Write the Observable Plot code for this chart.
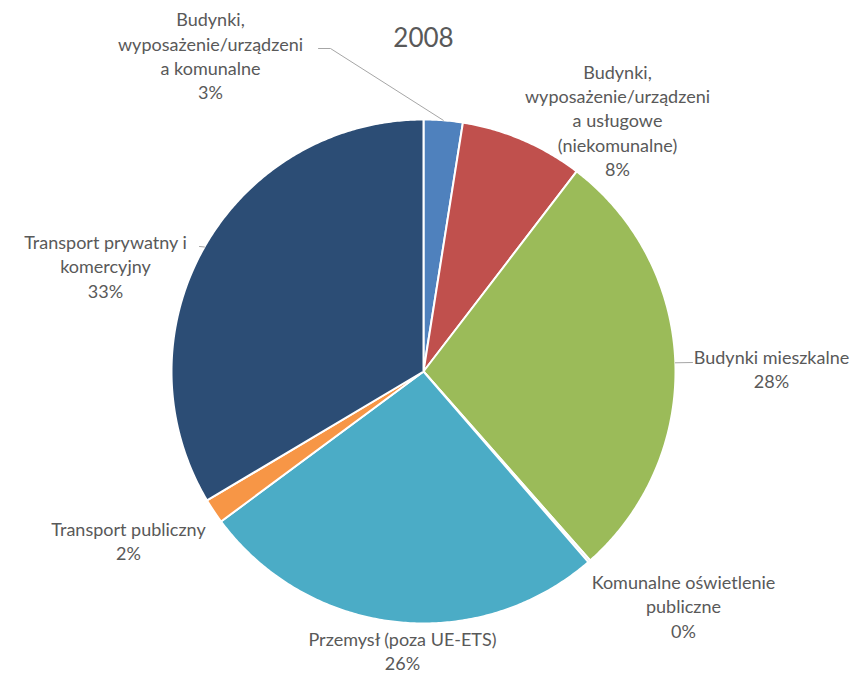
<!DOCTYPE html>
<html>
<head>
<meta charset="utf-8">
<script src="https://cdn.jsdelivr.net/npm/d3@7"></script>
<script src="https://cdn.jsdelivr.net/npm/@observablehq/plot@0.6"></script>
<style>
  html, body { margin: 0; padding: 0; background: #fff; }
  #chart svg { display: block; }
</style>
</head>
<body>
<div id="chart"></div>
<script>
// ---- data ----
const title = "2008";
const categories = [
  "Budynki, wyposażenie/urządzenia komunalne",
  "Budynki, wyposażenie/urządzenia usługowe (niekomunalne)",
  "Budynki mieszkalne",
  "Komunalne oświetlenie publiczne",
  "Przemysł (poza UE-ETS)",
  "Transport publiczny",
  "Transport prywatny i komercyjny"
];
const labelLines = [
  ["Budynki,", "wyposażenie/urządzeni", "a komunalne"],
  ["Budynki,", "wyposażenie/urządzeni", "a usługowe", "(niekomunalne)"],
  ["Budynki mieszkalne"],
  ["Komunalne oświetlenie", "publiczne"],
  ["Przemysł (poza UE-ETS)"],
  ["Transport publiczny"],
  ["Transport prywatny i", "komercyjny"]
];
const shares = [2.5, 7.9, 28.1, 0.15, 26.2, 1.6, 33.55];
const percentLabels = ["3%", "8%", "28%", "0%", "26%", "2%", "33%"];
const colors = ["#4F81BD", "#C0504D", "#9BBB59", "#B7C4D6", "#4BACC6", "#F79646", "#2C4D75"];

// ---- layout (pixels) ----
const W = 852, H = 673;
const center = {x: 423, y: 371};
const R = 252;
const labelPos = [
  {x: 210, y: 54.5},
  {x: 617, y: 119},
  {x: 771, y: 368},
  {x: 683, y: 605},
  {x: 402, y: 649.5},
  {x: 128, y: 539.5},
  {x: 105, y: 265}
];
// leader line start points (label side) per slice index
const leaderStarts = {
  0: [[318, 48], [330, 48]],
  2: [[692, 362]],
  6: [[199, 246]]
};

// ---- geometry from data ----
const arcs = d3.pie().sort(null).value(d => d)(shares);
const pt = (a, r) => ({x: center.x + r * Math.sin(a), y: center.y - r * Math.cos(a)});

const slicePoints = [];
arcs.forEach((arc, i) => {
  slicePoints.push({...center, i, color: colors[i]});
  const n = Math.max(2, Math.ceil((arc.endAngle - arc.startAngle) / (Math.PI / 360)));
  for (let k = 0; k <= n; k++) {
    const a = arc.startAngle + (arc.endAngle - arc.startAngle) * k / n;
    slicePoints.push({...pt(a, R), i, color: colors[i]});
  }
});

const labels = categories.map((c, i) => ({
  x: labelPos[i].x, y: labelPos[i].y,
  text: [...labelLines[i], percentLabels[i]].join("\n")
}));

const leaders = [];
Object.entries(leaderStarts).forEach(([i, pts]) => {
  const arc = arcs[+i];
  const mid = (arc.startAngle + arc.endAngle) / 2;
  const end = pt(mid, R);
  [...pts.map(([x, y]) => ({x, y})), end].forEach(p => leaders.push({...p, i: +i}));
});

const plot = Plot.plot({
  width: W,
  height: H,
  margin: 0,
  x: {domain: [0, W], range: [0, W], axis: null},
  y: {domain: [0, H], range: [0, H], axis: null},
  color: {type: "identity"},
  style: {fontFamily: "Lato, 'Open Sans', sans-serif", background: "#fff"},
  marks: [
    Plot.line(slicePoints, {
      x: "x", y: "y", z: "i", fill: "color",
      stroke: "#fff", strokeWidth: 2, strokeLinejoin: "round",
      curve: "linear-closed"
    }),
    Plot.line(leaders, {x: "x", y: "y", z: "i", stroke: "#A6A6A6", strokeWidth: 1}),
    Plot.text(labels, {
      x: "x", y: "y", text: "text",
      fontSize: 18, lineHeight: 1.35, fill: "#595959", textAnchor: "middle"
    }),
    Plot.text([title], {
      x: () => center.x, y: () => 38, text: d => d,
      fontSize: 26, fill: "#595959", textAnchor: "middle"
    })
  ]
});
document.getElementById("chart").append(plot);
</script>
</body>
</html>
